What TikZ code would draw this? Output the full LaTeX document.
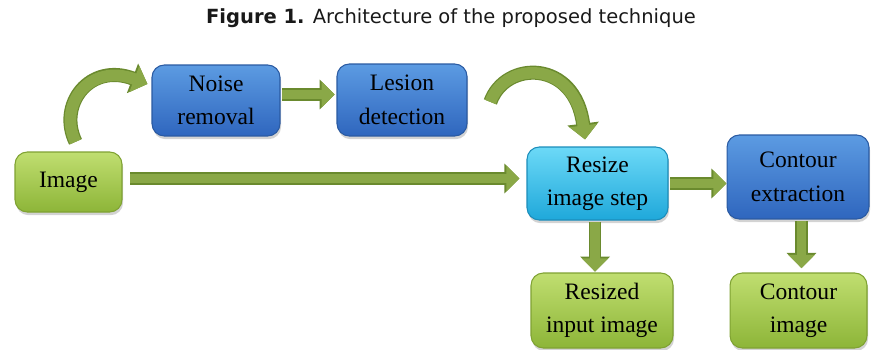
\documentclass[tikz,border=0pt]{standalone}
\usepackage{fontspec}
\setmainfont{Liberation Serif}
\newfontfamily\titlefont{DejaVu Sans}
\usetikzlibrary{arrows.meta,shadows}
\definecolor{greentop}{HTML}{C0DE70}
\definecolor{greenbot}{HTML}{8DB538}
\definecolor{greenedge}{HTML}{7FA232}
\definecolor{bluetop}{HTML}{5C9BE2}
\definecolor{bluebot}{HTML}{2F66BE}
\definecolor{blueedge}{HTML}{2A5AA2}
\definecolor{cyantop}{HTML}{6CD9F7}
\definecolor{cyanbot}{HTML}{1FA8DA}
\definecolor{cyanedge}{HTML}{1C8DBA}
\definecolor{arrowfill}{HTML}{8AA847}
\definecolor{arrowedge}{HTML}{6A8A2E}
\tikzset{
  box/.style={rounded corners=7pt, align=center, inner sep=0pt, line width=0.6pt,
    font=\fontsize{13.4}{19}\selectfont, text=black,
    drop shadow={shadow xshift=0.6pt, shadow yshift=-1.8pt, opacity=0.35}},
  gbox/.style={box, draw=greenedge, top color=greentop, bottom color=greenbot},
  bbox/.style={box, draw=blueedge, top color=bluetop, bottom color=bluebot},
  cbox/.style={box, draw=cyanedge, top color=cyantop, bottom color=cyanbot},
  flow/.style={draw=arrowfill, line width=5.6pt, -{Triangle[width=14.5pt,length=7.5pt]},
    preaction={draw=arrowedge, line width=7pt, -{Triangle[width=16.5pt,length=8.6pt]}}},
  cflow/.style={draw=arrowfill, line width=6.6pt, -{Triangle[width=15.5pt,length=8pt]},
    preaction={draw=arrowedge, line width=8pt, -{Triangle[width=17.5pt,length=9.1pt]}}},
}
\begin{document}
\begin{tikzpicture}[x=0.02cm, y=-0.02cm]
  \useasboundingbox (0,0) rectangle (871,349);
  \node[font=\titlefont\fontsize{11.1}{13}\selectfont, text=black!90] (title) at (451,18)
    {\textbf{Figure 1.} Architecture of the proposed technique};
  % boxes
  \node[gbox, minimum width=2.14cm, minimum height=1.2cm] (img) at (68.5,182) {Image};
  \node[bbox, minimum width=2.56cm, minimum height=1.42cm] (noise) at (216,100.5) {Noise\\removal};
  \node[bbox, minimum width=2.6cm, minimum height=1.44cm] (lesion) at (402,100) {Lesion\\detection};
  \node[cbox, minimum width=2.82cm, minimum height=1.46cm] (resize) at (597.5,183.5) {Resize\\image step};
  \node[bbox, minimum width=2.84cm, minimum height=1.68cm] (contour) at (798,177) {Contour\\extraction};
  \node[gbox, minimum width=2.84cm, minimum height=1.5cm] (resized) at (602,310.5) {Resized\\input image};
  \node[gbox, minimum width=2.74cm, minimum height=1.5cm] (cimg) at (798.5,310.5) {Contour\\image};
  % arrows
  \draw[flow, shorten <=4.5pt, shorten >=4pt] ([yshift=2pt]img.east) -- ([yshift=2pt]img.east -| resize.west);
  \draw[flow, shorten <=1pt, shorten >=1pt] ([yshift=3.4pt]noise.east) -- ([yshift=3.4pt]noise.east -| lesion.west);
  \draw[flow, shorten <=1pt] (resize.east) -- (resize.east -| contour.west);
  \draw[flow, shorten <=1pt, shorten >=0.5pt] ([xshift=-1.4pt]resize.south) -- ([xshift=-1.4pt]resize.south |- resized.north);
  \draw[flow, shorten <=1pt, shorten >=2.5pt] ([xshift=2pt]contour.south) -- ([xshift=2pt]contour.south |- cimg.north);
  \draw[cflow] ([xshift=4pt,yshift=5.5pt]img.north) .. controls +(-18,-37) and +(-58,-22) .. ([xshift=-2.3pt,yshift=9.4pt]noise.west);
  \draw[cflow] ([xshift=13pt,yshift=-1.1pt]lesion.east) .. controls +(15,-42) and +(-10,-80) .. ([xshift=-7.1pt,yshift=4pt]resize.north);
\end{tikzpicture}
\end{document}
